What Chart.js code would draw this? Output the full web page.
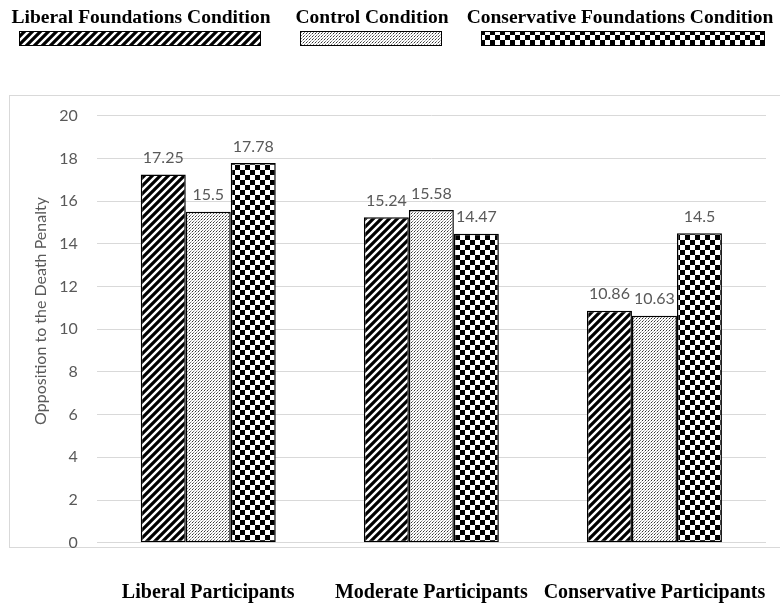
<!DOCTYPE html>
<html>
<head>
<meta charset="utf-8">
<title>Opposition to the Death Penalty</title>
<script src="https://cdn.jsdelivr.net/npm/chart.js"></script>
<style>
    html, body { margin: 0; padding: 0; background: #fff; }
    #wrap { width: 780px; height: 611px; }
</style>
</head>
<body>
<div id="wrap"><canvas id="penaltyChart" width="780" height="611"></canvas></div>
<script>
const categories = ["Liberal Participants", "Moderate Participants", "Conservative Participants"];
const conditions = ["Liberal Foundations Condition", "Control Condition", "Conservative Foundations Condition"];
const liberalFoundations = [17.25, 15.24, 10.86];
const controlCondition = [15.5, 15.58, 10.63];
const conservativeFoundations = [17.78, 14.47, 14.5];
const yMin = 0;
const yMax = 20;
const yStep = 2;
const yTitle = "Opposition to the Death Penalty";

document.addEventListener("DOMContentLoaded", function () {
    const canvas = document.getElementById("penaltyChart");
    const ctx = canvas.getContext("2d");

    // little tiles used as fills, like the Excel pattern fills
    function makePattern(kind) {
        const tile = document.createElement("canvas");
        const size = kind === "checker" ? 10 : kind === "stripes" ? 8 : 3;
        tile.width = size;
        tile.height = size;
        const t = tile.getContext("2d");
        t.fillStyle = "#fff";
        t.fillRect(0, 0, size, size);
        t.fillStyle = "#000";
        t.strokeStyle = "#000";
        if (kind === "stripes") {
            t.lineWidth = 3.2;
            t.beginPath();
            t.moveTo(0, size); t.lineTo(size, 0);
            t.moveTo(-2, 2); t.lineTo(2, -2);
            t.moveTo(size - 2, size + 2); t.lineTo(size + 2, size - 2);
            t.stroke();
        } else if (kind === "checker") {
            t.fillRect(0, 0, 5, 5);
            t.fillRect(5, 5, 5, 5);
        } else {
            t.fillStyle = "#333";
            t.fillRect(0, 0, 1, 1);
            t.fillStyle = "#777";
            t.fillRect(1, 2, 1, 1);
            t.fillStyle = "#bbb";
            t.fillRect(2, 1, 1, 1);
        }
        return ctx.createPattern(tile, "repeat");
    }

    const fills = [makePattern("stripes"), makePattern("dots"), makePattern("checker")];
    const serifFamily = "'Liberation Serif', 'Times New Roman', serif";
    const serifBold = "bold 19.5px " + serifFamily;
    const sansFont = "16px Lato, 'Open Sans', sans-serif";

    const decorations = {
        id: "decorations",
        beforeDraw(chart) {
            const c = chart.ctx;
            c.save();
            // outer frame of the plot box
            c.strokeStyle = "#d9d9d9";
            c.lineWidth = 1;
            c.strokeRect(9.5, 95.5, 780, 452);

            // legend row at the top
            const legendItems = [
                { text: conditions[0], cx: 141, sx: 19, sw: 242 },
                { text: conditions[1], cx: 372, sx: 300, sw: 142 },
                { text: conditions[2], cx: 620, sx: 481, sw: 284 },
            ];
            c.font = serifBold;
            c.textAlign = "center";
            c.textBaseline = "middle";
            legendItems.forEach((item, i) => {
                c.fillStyle = "#000";
                c.fillText(item.text, item.cx, 18);
                c.fillStyle = fills[i];
                c.fillRect(item.sx, 31, item.sw, 15);
                c.strokeStyle = "#000";
                c.lineWidth = 1;
                c.strokeRect(item.sx + 0.5, 31.5, item.sw - 1, 14);
            });

            // y axis title
            c.translate(41, 311);
            c.rotate(-Math.PI / 2);
            c.font = sansFont;
            c.fillStyle = "#595959";
            c.fillText(yTitle, 0, 0);
            c.restore();
        },
        afterDatasetsDraw(chart) {
            const c = chart.ctx;
            c.save();
            c.font = sansFont;
            c.fillStyle = "#595959";
            c.textAlign = "center";
            c.textBaseline = "alphabetic";
            chart.data.datasets.forEach((ds, i) => {
                chart.getDatasetMeta(i).data.forEach((bar, j) => {
                    c.fillText(String(ds.data[j]), bar.x, bar.y - 11.5);
                });
            });
            c.restore();
        },
    };

    new Chart(ctx, {
        type: "bar",
        data: {
            labels: categories,
            datasets: [
                { label: conditions[0], data: liberalFoundations, backgroundColor: fills[0] },
                { label: conditions[1], data: controlCondition, backgroundColor: fills[1] },
                { label: conditions[2], data: conservativeFoundations, backgroundColor: fills[2] },
            ],
        },
        options: {
            responsive: false,
            animation: false,
            events: [],
            layout: { padding: { top: 115.7, right: 14, bottom: 0, left: 0 } },
            datasets: {
                bar: {
                    borderColor: "#000",
                    borderWidth: 1.5,
                    borderSkipped: false,
                    categoryPercentage: 0.605,
                    barPercentage: 1.0,
                },
            },
            scales: {
                x: {
                    grid: { display: false },
                    border: { display: false },
                    ticks: {
                        color: "#000",
                        font: { family: serifFamily, size: 20, weight: "bold" },
                        padding: 30,
                        maxRotation: 0,
                        autoSkip: false,
                    },
                    afterFit: (scale) => {
                        scale.height = 68.3;
                        // the long last label must not squeeze the plot
                        scale.paddingLeft = 0;
                        scale.paddingRight = 0;
                    },
                },
                y: {
                    min: yMin,
                    max: yMax,
                    grid: { color: "#d9d9d9", drawTicks: false },
                    border: { display: false },
                    ticks: {
                        stepSize: yStep,
                        color: "#595959",
                        font: { family: "Lato, 'Open Sans', sans-serif", size: 16 },
                        padding: 19,
                    },
                    afterFit: (scale) => { scale.width = 96.7; },
                },
            },
            plugins: {
                legend: { display: false },
                tooltip: { enabled: false },
            },
        },
        plugins: [decorations],
    });
});
</script>
</body>
</html>
